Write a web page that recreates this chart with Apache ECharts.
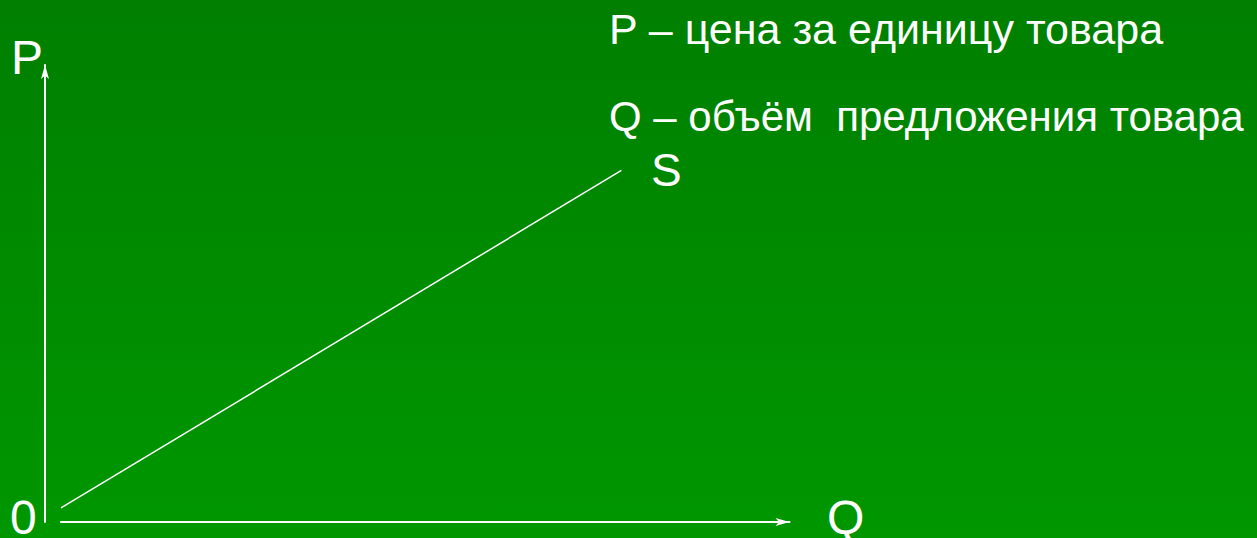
<!DOCTYPE html>
<html>
<head>
<meta charset="utf-8">
<script src="https://cdn.jsdelivr.net/npm/echarts@6/dist/echarts.min.js"></script>
<style>
  html, body { margin: 0; padding: 0; }
  #main { width: 1257px; height: 538px; }
</style>
</head>
<body>
<div id="main"></div>
<script>
// кривая предложения S (схематично)
var supplyQ = [0, 10];
var supplyP = [0.4, 10];
var axisMax = 13;

// подписи
var axisNames = ['P', 'Q'];
var originLabel = '0';
var curveName = 'S';
var notes = ['P – цена за единицу товара', 'Q – объём  предложения товара'];

var chart = echarts.init(document.getElementById('main'), null, {renderer: 'svg'});

var white = '#ffffff';
var bigFont = '48px "Liberation Sans", Arial, sans-serif';

var axisLineStyle = {
  show: true,
  symbol: ['none', 'arrow'],
  symbolSize: [6, 14],
  lineStyle: {color: white, width: 2}
};

var option = {
  animation: false,
  backgroundColor: {
    type: 'linear', x: 0, y: 0, x2: 0, y2: 1,
    colorStops: [{offset: 0, color: '#007f00'}, {offset: 1, color: '#009700'}]
  },
  grid: [
    {left: 45, top: 65, bottom: 16, width: 10},       // ось P
    {left: 61, right: 467.5, top: 65, bottom: 16}     // ось Q и кривая
  ],
  xAxis: [
    {gridIndex: 0, type: 'value', min: 0, max: axisMax, show: false},
    {gridIndex: 1, type: 'value', min: 0, max: axisMax,
      axisLine: axisLineStyle, axisTick: {show: false}, axisLabel: {show: false}, splitLine: {show: false}}
  ],
  yAxis: [
    {gridIndex: 0, type: 'value', min: 0, max: axisMax,
      axisLine: axisLineStyle, axisTick: {show: false}, axisLabel: {show: false}, splitLine: {show: false}},
    {gridIndex: 1, type: 'value', min: 0, max: axisMax, show: false}
  ],
  series: [{
    name: curveName,
    type: 'line',
    xAxisIndex: 1,
    yAxisIndex: 1,
    data: supplyQ.map(function (q, i) { return [q, supplyP[i]]; }),
    showSymbol: false,
    lineStyle: {color: white, width: 1.5}
  }],
  graphic: [
    {type: 'text', left: 11, top: 33, style: {text: axisNames[0], font: bigFont, fill: white}},
    {type: 'text', left: 10, top: 493, style: {text: originLabel, font: bigFont, fill: white}},
    {type: 'text', left: 827, top: 493, style: {text: axisNames[1], font: bigFont, fill: white}},
    {type: 'text', left: 651, top: 147, style: {text: curveName, font: '46px "Liberation Sans", Arial, sans-serif', fill: white}},
    {type: 'text', left: 609, top: 7, style: {text: notes[0], font: '43px "Liberation Sans", Arial, sans-serif', fill: white}},
    {type: 'text', left: 609, top: 95, style: {text: notes[1], font: '42px "Liberation Sans", Arial, sans-serif', fill: white}}
  ]
};

chart.setOption(option);
</script>
</body>
</html>
